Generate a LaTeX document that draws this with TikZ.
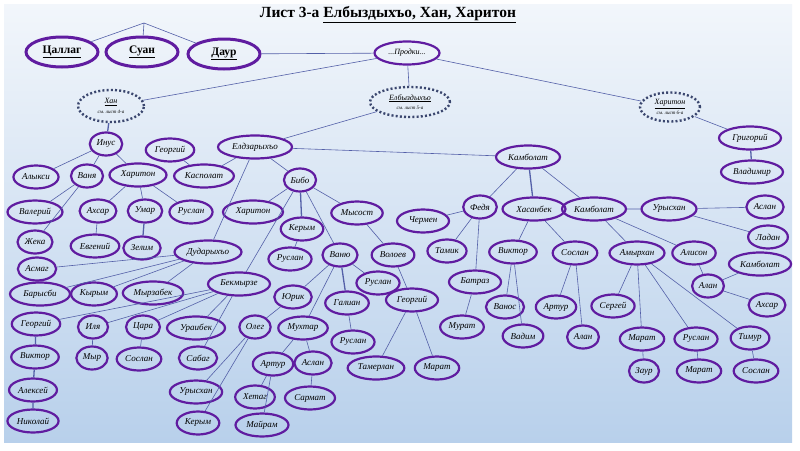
\documentclass[tikz,border=0pt]{standalone}
\usepackage{fontspec}
\setmainfont{Liberation Serif}
\usetikzlibrary{shapes.geometric}
\definecolor{pcol}{RGB}{96,28,160}
\definecolor{lcol}{RGB}{84,96,168}
\definecolor{dcol}{RGB}{58,70,110}
\definecolor{bgtop}{RGB}{242,246,251}
\definecolor{bgbot}{RGB}{184,208,235}

\begin{document}
\begin{tikzpicture}[x=1pt,y=-1pt,
  person/.style={ellipse,draw=pcol,line width=2.2pt,minimum width=30pt,minimum height=23pt,inner xsep=2pt,inner ysep=1pt,font=\fontsize{9}{9}\selectfont\itshape},
  clan/.style={ellipse,draw=pcol,line width=3pt,minimum width=72pt,minimum height=30pt,font=\fontsize{11.5}{12}\selectfont\bfseries},
  sheet/.style={ellipse,draw=dcol,line width=2.4pt,dash pattern=on 2pt off 2.2pt,inner sep=0pt,align=center,font=\fontsize{8}{8}\selectfont\itshape},
  link/.style={draw=lcol,line width=.6pt},
  stem/.style={draw=lcol,line width=1.3pt}]
\useasboundingbox (0,0) rectangle (800,450);
\fill[white] (0,0) rectangle (800,450);
\shade[top color=bgtop,bottom color=bgbot] (4,4) rectangle (792,442);
\node[font=\fontsize{15.5}{16}\selectfont\bfseries] (title) at (388,15) {Лист 3-а \underline{Елбыздыхъо, Хан, Харитон}};
\coordinate (apex) at (144,23);
\node[clan] (tsallag) at (62,52) {\underline{Цаллаг}};
\node[clan] (suan) at (142,52) {\underline{Суан}};
\node[clan] (daur) at (224,54) {\underline{Даур}};
\node[person,minimum width=65pt,font=\fontsize{8}{8}\selectfont\itshape] (prodki) at (407,53) {...Продки...};
\node[sheet,minimum width=66pt,minimum height=32pt] (khan) at (111,106) {\underline{Хан}\\[1.5pt]{\fontsize{5}{5}\selectfont см. лист 4-а}};
\node[sheet,minimum width=80pt,minimum height=30pt] (elbyz) at (410,102) {\underline{Елбыздыхъо}\\[1.5pt]{\fontsize{5}{5}\selectfont см. лист 5-а}};
\node[sheet,minimum width=60pt,minimum height=29pt] (kharit) at (670,107) {\underline{Харитон}\\[1.5pt]{\fontsize{5}{5}\selectfont см. лист 6-а}};
\node[person,minimum width=62pt] (grigor) at (750,138) {Григорий};
\node[person,minimum width=62pt] (vladim) at (752,172) {Владимир};
\draw[link] (apex) -- (tsallag) (apex) -- (suan) (apex) -- (daur);
\draw[link] (daur) -- (prodki) (prodki) -- (khan) (prodki) -- (elbyz) (prodki) -- (kharit);
\draw[link] (kharit) -- (grigor);
\draw[stem] (grigor) -- (vladim);
\node[person] (inus) at (106,144) {Инус};
\node[person] (georg1) at (170,150) {Георгий};
\node[person] (alyksi) at (36,177) {Алыкси};
\node[person] (vanya) at (87,176) {Ваня};
\node[person,minimum width=57pt] (khariton1) at (138,175) {Харитон};
\node[person,minimum width=58pt] (kaspolat) at (204,176) {Касполат};
\node[person,minimum width=55pt] (valeriy) at (35,212) {Валерий};
\node[person] (akhsar1) at (98,211) {Ахсар};
\node[person] (umar) at (145,211) {Умар};
\node[person] (ruslan1) at (191,212) {Руслан};
\node[person] (zheka) at (35,242) {Жека};
\node[person] (evgeniy) at (95,246) {Евгений};
\node[person] (zelim) at (142,248) {Зелим};
\draw[stem] (khan) -- (inus);
\draw[link] (inus) -- (alyksi) (inus) -- (vanya) (inus) -- (khariton1);
\draw[link] (vanya) -- (valeriy) (vanya) -- (zheka);
\draw[link] (khariton1) -- (akhsar1) (khariton1) -- (umar) (khariton1) -- (ruslan1);
\draw[link] (akhsar1) -- (evgeniy) (georg1) -- (kaspolat);
\draw[stem] (umar) -- (zelim);
\node[person,minimum width=74pt] (eldzar) at (255,147) {Елдзарыхъо};
\node[person] (bibo) at (300,180) {Бибо};
\node[person,minimum width=67pt] (dudar) at (208,252) {Дударыхъо};
\node[person,minimum width=60pt] (khariton2) at (253,212) {Харитон};
\node[person,minimum width=51pt] (mysost) at (357,213) {Мысост};
\node[person] (kerym1) at (302,229) {Керым};
\node[person] (ruslan2) at (290,259) {Руслан};
\node[person] (vanyu) at (340,255) {Ваню};
\node[person] (voloev) at (393,255) {Волоев};
\node[person,minimum width=62pt] (bekmyrze) at (239,284) {Бекмырзе};
\draw[link] (elbyz) -- (eldzar);
\draw[link] (eldzar) -- (kaspolat) (eldzar) -- (bibo) (eldzar) -- (dudar);
\draw[link] (bibo) -- (khariton2) (bibo) -- (vanyu) (bibo) -- (mysost) (bibo) -- (bekmyrze);
\draw[stem] (bibo) -- (kerym1);
\draw[link] (kerym1) -- (ruslan2) (mysost) -- (voloev);
\node[person] (asmag) at (37,269) {Асмаг};
\node[person,minimum width=60pt] (barysbi) at (40,294) {Барысби};
\node[person] (kyrym) at (94,294) {Кырым};
\node[person,minimum width=58pt] (myrzabek) at (153,293) {Мырзабек};
\draw[link] (dudar) -- (asmag) (dudar) -- (barysbi) (dudar) -- (kyrym) (dudar) -- (myrzabek);
\node[person] (georg2) at (36,324) {Георгий};
\node[person] (ilya) at (93,327) {Иля};
\node[person] (tsara) at (143,327) {Цара};
\node[person,minimum width=58pt] (uraibek) at (196,328) {Ураибек};
\node[person] (sabag) at (198,358) {Сабаг};
\draw[link] (bekmyrze) -- (georg2) (bekmyrze) -- (ilya) (bekmyrze) -- (tsara) (bekmyrze) -- (uraibek) (bekmyrze) -- (sabag);
\node[person] (viktor1) at (35,357) {Виктор};
\node[person] (myr) at (92,358) {Мыр};
\node[person] (soslan1) at (139,359) {Сослан};
\node[person] (aleksey) at (33,390) {Алексей};
\node[person] (nikolay) at (33,421) {Николай};
\draw[stem] (georg2) -- (viktor1) (viktor1) -- (aleksey) (aleksey) -- (nikolay);
\draw[link] (ilya) -- (myr) (tsara) -- (soslan1);
\node[person] (yurik) at (293,297) {Юрик};
\node[person] (oleg) at (255,327) {Олег};
\node[person] (urysk1) at (196,392) {Урысхан};
\node[person] (kerym2) at (198,423) {Керым};
\draw[link] (vanyu) -- (yurik) (yurik) -- (oleg) (oleg) -- (urysk1) (oleg) -- (kerym2);
\node[person] (ruslan3) at (378,283) {Руслан};
\node[person] (galian) at (347,303) {Галиан};
\node[person] (mukhtar) at (303,328) {Мухтар};
\node[person] (ruslan4) at (353,342) {Руслан};
\draw[link] (vanyu) -- (ruslan3) (vanyu) -- (mukhtar) (galian) -- (ruslan4);
\draw[stem] (vanyu) -- (galian);
\node[person] (artur1) at (273,364) {Артур};
\node[person] (aslan1) at (313,363) {Аслан};
\node[person] (khetag) at (255,397) {Хетаг};
\node[person,minimum width=53pt] (mayram) at (262,425) {Майрам};
\node[person] (sarmat) at (310,398) {Сармат};
\draw[link] (mukhtar) -- (artur1) (mukhtar) -- (aslan1) (artur1) -- (khetag) (artur1) -- (mayram) (aslan1) -- (sarmat);
\node[person,minimum width=52pt] (georg3) at (412,300) {Георгий};
\node[person] (tamerlan) at (376,368) {Тамерлан};
\node[person] (marat1) at (437,368) {Марат};
\draw[link] (voloev) -- (georg3) (georg3) -- (tamerlan) (georg3) -- (marat1);
\node[person,minimum width=64pt] (kambolat1) at (528,157) {Камболат};
\node[person] (fedya) at (480,207) {Федя};
\node[person,minimum width=63pt] (khasanbek) at (534,209) {Хасанбек};
\node[person,minimum width=64pt] (kambolat2) at (594,209) {Камболат};
\node[person,minimum width=52pt] (chermen) at (423,221) {Чермен};
\node[person] (tamik) at (447,251) {Тамик};
\node[person,minimum width=52pt] (batraz) at (475,282) {Батраз};
\node[person] (murat) at (462,327) {Мурат};
\node[person] (viktor2) at (513,252) {Виктор};
\node[person] (soslan2) at (575,253) {Сослан};
\node[person] (vanos) at (505,307) {Ванос};
\node[person] (vadim) at (523,336) {Вадим};
\node[person] (artur2) at (556,307) {Артур};
\node[person] (alan1) at (583,337) {Алан};
\draw[link] (eldzar) -- (kambolat1);
\draw[link] (kambolat1) -- (fedya) (kambolat1) -- (kambolat2) (chermen) -- (fedya) (fedya) -- (tamik) (fedya) -- (batraz) (batraz) -- (murat);
\draw[stem] (kambolat1) -- (khasanbek);
\draw[link] (khasanbek) -- (viktor2) (khasanbek) -- (soslan2) (viktor2) -- (vanos) (viktor2) -- (vadim) (soslan2) -- (artur2) (soslan2) -- (alan1);
\node[person,minimum width=55pt] (urysk2) at (669,209) {Урысхан};
\node[person] (aslan2) at (765,207) {Аслан};
\node[person] (ladan) at (768,237) {Ладан};
\node[person,minimum width=55pt] (amyrkhan) at (637,253) {Амырхан};
\node[person] (alison) at (694,253) {Алисон};
\node[person,minimum width=58pt] (kambolat3) at (760,264) {Камболат};
\node[person] (alan2) at (708,286) {Алан};
\node[person] (akhsar2) at (767,305) {Ахсар};
\draw[link] (kambolat2) -- (urysk2) (kambolat2) -- (amyrkhan) (kambolat2) -- (alison);
\draw[link] (urysk2) -- (aslan2) (urysk2) -- (ladan) (alison) -- (alan2) (alan2) -- (kambolat3) (alan2) -- (akhsar2);
\node[person] (sergey) at (613,306) {Сергей};
\node[person] (marat2) at (642,339) {Марат};
\node[person] (zaur) at (644,371) {Заур};
\node[person] (ruslan5) at (696,339) {Руслан};
\node[person] (marat3) at (699,371) {Марат};
\node[person] (timur) at (750,338) {Тимур};
\node[person] (soslan3) at (756,371) {Сослан};
\draw[link] (amyrkhan) -- (sergey) (amyrkhan) -- (marat2) (amyrkhan) -- (ruslan5) (amyrkhan) -- (timur);
\draw[link] (marat2) -- (zaur) (ruslan5) -- (marat3) (timur) -- (soslan3);
\end{tikzpicture}
\end{document}
